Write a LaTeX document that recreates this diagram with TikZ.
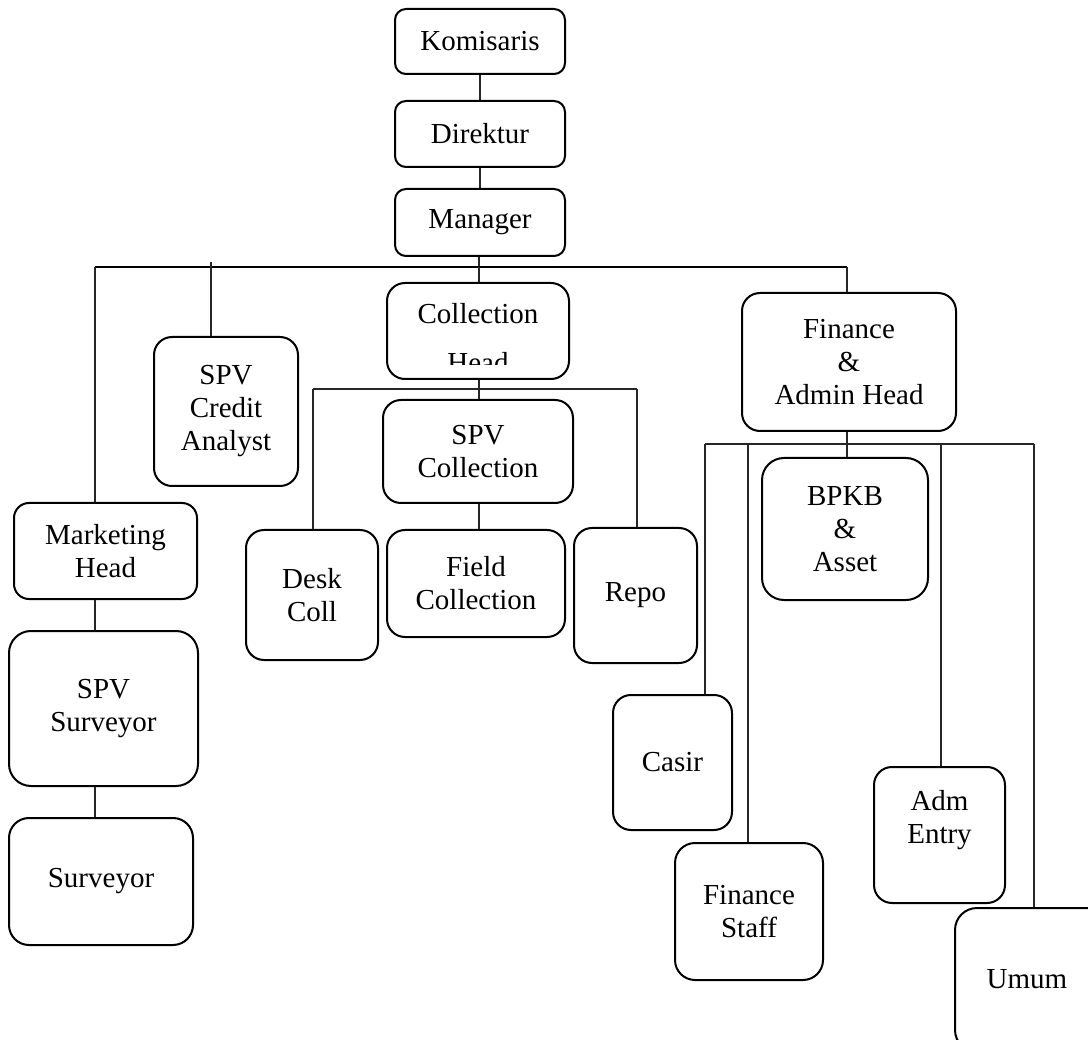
\documentclass[tikz,border=0pt]{standalone}
\usepackage{fontspec}
\setmainfont{Liberation Serif}
\begin{document}
\begin{tikzpicture}[x=1pt,y=-1pt,
  box/.style={draw=black, line width=2pt, rounded corners=18pt, align=center,
    inner sep=0pt, font=\fontsize{29}{33}\selectfont},
  smallbox/.style={box, rounded corners=11pt},
  link/.style={draw=black!85, line width=1.1pt},
  buslink/.style={draw=black, line width=1.8pt},
  txt/.style={inner sep=0pt, font=\fontsize{29}{33}\selectfont}]
\useasboundingbox (0,0) rectangle (1088,1040);
\clip (0,0) rectangle (1088,1040);

% top chain
\node[smallbox, minimum width=170pt, minimum height=65pt] (kom) at (480,41.5) {Komisaris};
\node[smallbox, minimum width=170pt, minimum height=66pt] (dir) at (480,134) {Direktur};
\node[smallbox, minimum width=170pt, minimum height=67pt] (man) at (480,222.5) {Manager};

% level 2
\node[box, minimum width=144pt, minimum height=149pt] (credit) at (226,411.5) {SPV\\Credit\\Analyst};
\node[box, minimum width=182pt, minimum height=96pt] (colh) at (478,331) {};
\begin{scope}
  \clip (388,284) rectangle (568,365);
  \node[txt, anchor=base] (colht1) at (478,324) {Collection};
  \node[txt, anchor=base] (colht2) at (478,373) {Head};
\end{scope}
\node[box, minimum width=214pt, minimum height=138pt] (fin) at (849,362) {Finance\\\&\\Admin Head};
\node[box, minimum width=183pt, minimum height=96pt, rounded corners=15pt] (mkt) at (105.5,551) {Marketing\\Head};

% collection branch
\node[box, minimum width=190pt, minimum height=103pt] (spvc) at (478,451.5) {SPV\\Collection};
\node[box, minimum width=132pt, minimum height=130pt] (desk) at (312,595) {Desk\\Coll};
\node[box, minimum width=178pt, minimum height=107pt] (field) at (476,583.5) {Field\\Collection};
\node[box, minimum width=123pt, minimum height=135pt] (repo) at (635.5,595.5) {Repo};

% finance branch
\node[box, minimum width=166pt, minimum height=142pt, rounded corners=22pt] (bpkb) at (845,529) {BPKB\\\&\\Asset};
\node[box, minimum width=119pt, minimum height=135pt] (casir) at (672.5,762.5) {Casir};
\node[box, minimum width=148pt, minimum height=137pt, rounded corners=20pt] (fstaff) at (749,911.5) {Finance\\Staff};
\node[box, minimum width=131pt, minimum height=136pt] (adm) at (939.5,835) {};
\node[txt, align=center] (admt) at (939.5,820) {Adm\\Entry};
\node[box, minimum width=156pt, minimum height=144pt, rounded corners=22pt] (umum) at (1033,980) {};
\node[txt] (umumt) at (1027,979) {Umum};

% marketing branch
\node[box, minimum width=189pt, minimum height=155pt, rounded corners=22pt] (spvs) at (103.5,708.5) {SPV\\Surveyor};
\node[box, minimum width=184pt, minimum height=127pt, rounded corners=20pt] (surv) at (101,881.5) {Surveyor};

% bus coordinates
\coordinate (bus) at (479,267);
\coordinate (busL) at (95,267);
\coordinate (busR) at (847,267);
\coordinate (creditTop) at (211,262);
\coordinate (cbus) at (479,389);
\coordinate (cbusL) at (313,389);
\coordinate (cbusR) at (637,389);
\coordinate (fbus) at (847,444);
\coordinate (fbusL) at (705,444);
\coordinate (fbusA) at (748,444);
\coordinate (fbusB) at (941,444);
\coordinate (fbusR) at (1034,444);

% connectors top
\draw[link] (kom.south) -- (dir.north);
\draw[link] (dir.south) -- (man.north);
\draw[link] (man.south -| bus) -- (bus);
\draw[buslink] (busL) -- (busR);
\draw[link] (bus) -- (bus |- colh.north);
\draw[link] (creditTop) -- (creditTop |- credit.north);
\draw[link] (busR) -- (busR |- fin.north);
\draw[link] (busL) -- (busL |- mkt.north);

% marketing chain
\draw[link] (busL |- mkt.south) -- (busL |- spvs.north);
\draw[link] (busL |- spvs.south) -- (busL |- surv.north);

% collection
\draw[link] (colh.south -| cbus) -- (cbus);
\draw[link] (cbusL) -- (cbusR);
\draw[link] (cbus) -- (cbus |- spvc.north);
\draw[link] (cbus |- spvc.south) -- (cbus |- field.north);
\draw[link] (cbusL) -- (cbusL |- desk.north);
\draw[link] (cbusR) -- (cbusR |- repo.north);

% finance
\draw[link] (fbus |- fin.south) -- (fbus);
\draw[link] (fbusL) -- (fbusR);
\draw[link] (fbus) -- (fbus |- bpkb.north);
\draw[link] (fbusL) -- (fbusL |- casir.north);
\draw[link] (fbusA) -- (fbusA |- fstaff.north);
\draw[link] (fbusB) -- (fbusB |- adm.north);
\draw[link] (fbusR) -- (fbusR |- umum.north);
\end{tikzpicture}
\end{document}
